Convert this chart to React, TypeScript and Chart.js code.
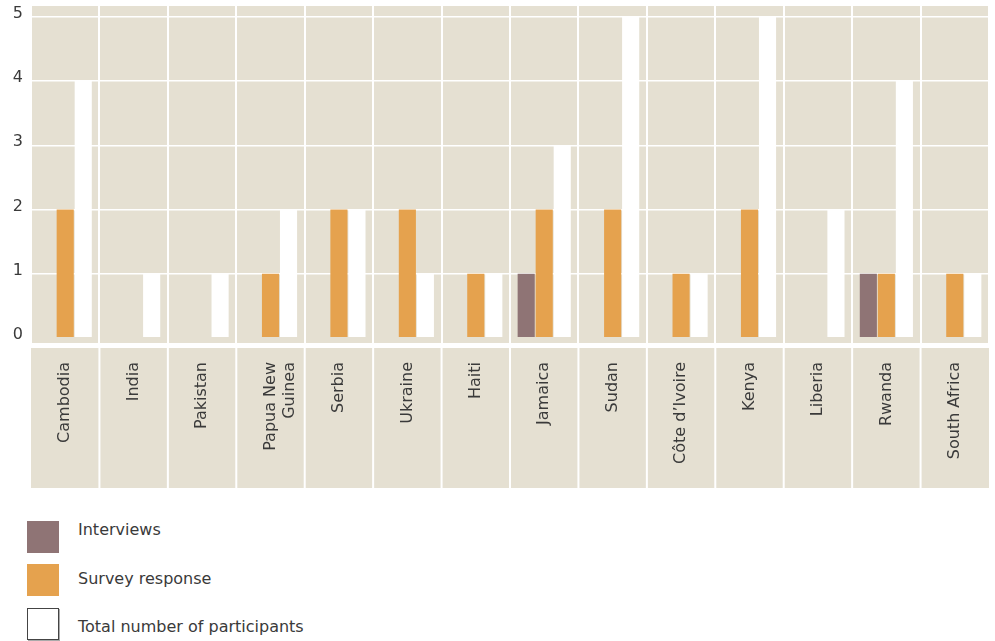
import React, { useEffect, useRef } from "react";
import { Chart, registerables } from "chart.js";

Chart.register(...registerables);

const categories: (string | string[])[] = [
  "Cambodia",
  "India",
  "Pakistan",
  ["Papua New", "Guinea"],
  "Serbia",
  "Ukraine",
  "Haiti",
  "Jamaica",
  "Sudan",
  "Côte d’Ivoire",
  "Kenya",
  "Liberia",
  "Rwanda",
  "South Africa",
];
const interviews = [0, 0, 0, 0, 0, 0, 0, 1, 0, 0, 0, 0, 1, 0];
const surveyResponse = [2, 0, 0, 1, 2, 2, 1, 2, 2, 1, 2, 0, 1, 1];
const totalParticipants = [4, 1, 1, 2, 2, 1, 1, 3, 5, 1, 5, 2, 4, 1];
const yTicks = [0, 1, 2, 3, 4, 5];
const seriesLabels = ["Interviews", "Survey response", "Total number of participants"];

const BEIGE = "#e5e0d2";
const MAUVE = "#8f7475";
const ORANGE = "#e5a24e";
const WHITE = "#ffffff";
const TEXT = "#3a3a3a";
const FONT = "'DejaVu Sans', sans-serif";

const bgPlugin = {
  id: "bgPlugin",
  beforeDraw(chart: any) {
    const { ctx, chartArea: a, scales } = chart;
    const x = scales.x;
    ctx.save();
    ctx.fillStyle = BEIGE;
    ctx.fillRect(a.left, a.top, a.right - a.left, a.bottom - a.top);
    const bandTop = a.bottom + 5;
    const bandBottom = a.bottom + 145;
    ctx.fillRect(a.left, bandTop, a.right - a.left, bandBottom - bandTop);
    ctx.fillStyle = WHITE;
    for (let i = 1; i < categories.length; i++) {
      const b = (x.getPixelForValue(i - 1) + x.getPixelForValue(i)) / 2;
      ctx.fillRect(b - 1, bandTop, 2, bandBottom - bandTop);
    }
    ctx.restore();
  },
};

export default function App() {
  const ref = useRef<HTMLCanvasElement>(null);

  useEffect(() => {
    if (!ref.current) return;
    const chart = new Chart(ref.current, {
      type: "bar",
      data: {
        labels: categories as any,
        datasets: [
          { label: seriesLabels[0], data: interviews, backgroundColor: MAUVE },
          { label: seriesLabels[1], data: surveyResponse, backgroundColor: ORANGE },
          { label: seriesLabels[2], data: totalParticipants, backgroundColor: WHITE },
        ],
      },
      options: {
        responsive: false,
        animation: false,
        layout: { padding: { top: 6, right: 6, left: 0, bottom: 0 } },
        datasets: {
          bar: { categoryPercentage: 0.79, barPercentage: 0.95 },
        },
        plugins: {
          legend: { display: false },
          tooltip: { enabled: false },
        },
        scales: {
          x: {
            grid: { display: true, offset: true, color: WHITE, lineWidth: 2, drawTicks: false },
            border: { display: false },
            ticks: {
              maxRotation: 90,
              minRotation: 90,
              autoSkip: false,
              padding: 19,
              color: TEXT,
              font: { family: FONT, size: 16 },
            },
            afterFit: (axis: any) => {
              axis.height = 152;
            },
          },
          y: {
            min: -0.08,
            max: 5.17,
            afterBuildTicks: (axis: any) => {
              axis.ticks = yTicks.map((v) => ({ value: v }));
            },
            grid: {
              color: (c: any) => (c.tick && c.tick.value === 0 ? "rgba(0,0,0,0)" : WHITE),
              lineWidth: 1.5,
              drawTicks: false,
            },
            border: { display: false },
            ticks: {
              padding: 8,
              labelOffset: -3,
              color: TEXT,
              font: { family: FONT, size: 16, lineHeight: 0.75 },
            },
            afterFit: (axis: any) => {
              axis.width = 31;
              axis.paddingTop = 0;
              axis.paddingBottom = 0;
            },
          },
        },
      },
      plugins: [bgPlugin],
    });
    return () => chart.destroy();
  }, []);

  const legendItems = [
    { label: seriesLabels[0], color: MAUVE, top: 521, textTop: 520 },
    { label: seriesLabels[1], color: ORANGE, top: 564, textTop: 569 },
    { label: seriesLabels[2], color: WHITE, top: 608, textTop: 617 },
  ];

  return (
    <div style={{ position: "absolute", left: 0, top: 0, width: 995, height: 641, background: "#fff" }}>
      <canvas
        ref={ref}
        width={995}
        height={495}
        style={{ display: "block", position: "absolute", left: 0, top: 0 }}
      />
      {legendItems.map((it, i) => (
        <React.Fragment key={i}>
          <div
            style={{
              position: "absolute",
              left: 27,
              top: it.top,
              width: i === 2 ? 30 : 32,
              height: i === 2 ? 30 : 32,
              background: it.color,
              border: i === 2 ? "1px solid #444" : "none",
              boxShadow: i === 2 ? "1px 1px 0 #aaa" : "none",
            }}
          />
          <div
            style={{
              position: "absolute",
              left: 78,
              top: it.textTop,
              fontFamily: FONT,
              fontSize: 16,
              lineHeight: "20px",
              color: TEXT,
              whiteSpace: "nowrap",
            }}
          >
            {it.label}
          </div>
        </React.Fragment>
      ))}
    </div>
  );
}
